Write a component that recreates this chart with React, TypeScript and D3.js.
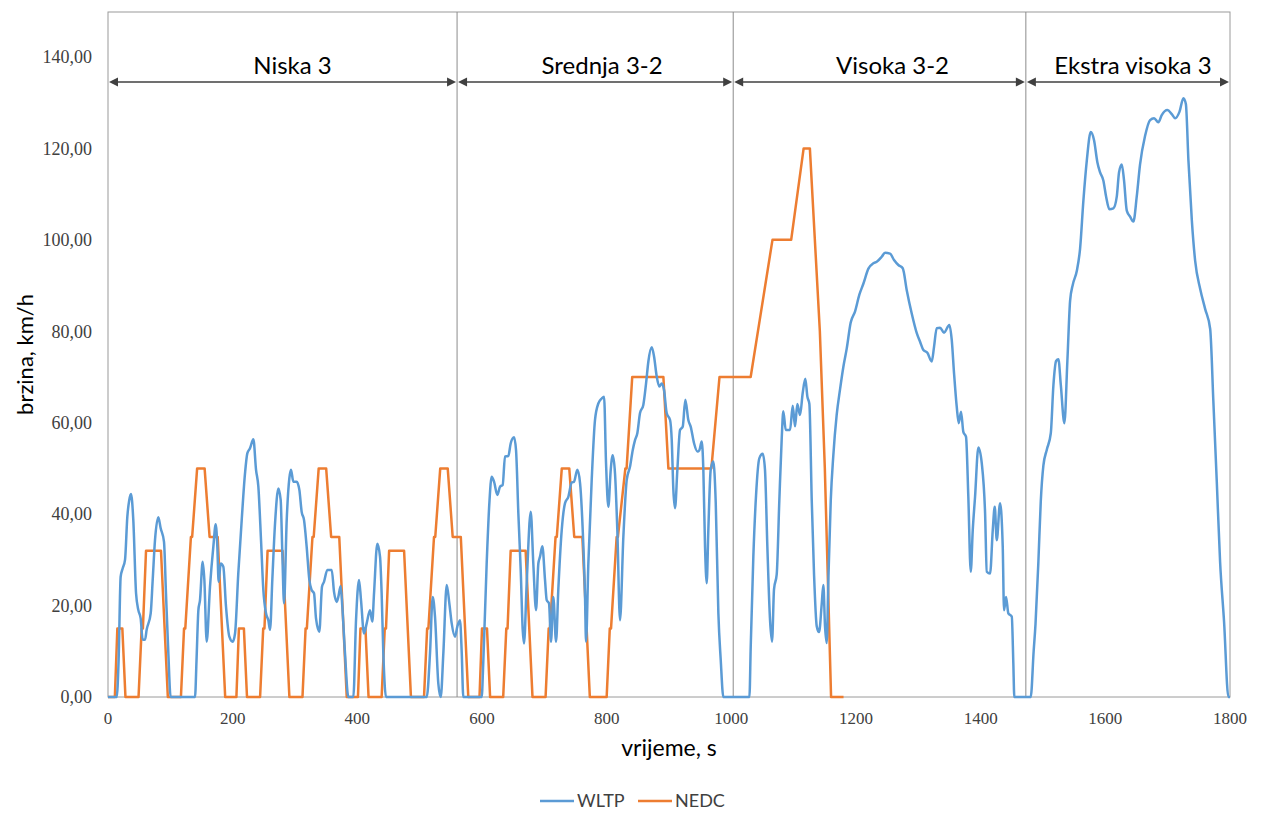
import React from "react";
import * as d3 from "d3";

// ---------- DATA ----------
const xTicks = [0, 200, 400, 600, 800, 1000, 1200, 1400, 1600, 1800];
const yTicks = [0, 20, 40, 60, 80, 100, 120, 140];
const yTickLabels = ["0,00", "20,00", "40,00", "60,00", "80,00", "100,00", "120,00", "140,00"];

const phaseBounds = [0, 560, 1003, 1472.5, 1800];
const phaseNames = ["Niska 3", "Srednja 3-2", "Visoka 3-2", "Ekstra visoka 3"];

const seriesNames = ["WLTP", "NEDC"];
const seriesColors = ["#5B9BD5", "#ED7D31"];

// WLTP speed trace [s, km/h]
const wltpLow: [number, number][] = [
  [0, 0], [14, 0], [17, 8], [20.3, 26.3], [23.5, 28.1], [27.3, 30], [31, 39.4], [34, 43], [36.9, 44.4],
  [40.6, 38.7], [45, 22.7], [48.7, 19], [52.4, 17.2], [55.6, 12.5], [59.4, 12.5], [62, 14.7], [68.5, 18.3],
  [71.7, 25.6], [75.4, 34.3], [80.7, 39.3], [84.5, 36.9], [89.8, 34], [93, 22.7], [96.8, 9.6], [100.5, 0],
  [139.6, 0], [142, 8], [145, 19], [147.6, 21.2], [151.9, 29.6], [154.6, 25.6], [158.3, 12.1], [163.6, 24.1],
  [169, 32.9], [172.8, 37.8], [175.4, 32.9], [177.5, 25.2], [180.8, 29.2], [185, 28.5], [189.3, 19.8],
  [194.7, 13.2], [200, 12.1], [203.8, 13.9], [209, 27], [214.5, 38.7], [219.8, 48.9], [223.5, 53.3],
  [227.8, 54.4], [233.2, 56.4], [237.5, 49.7], [241.2, 46], [245.5, 34.3], [249.2, 23.4], [253.5, 18.3],
  [257.2, 16.8], [260, 14.7], [263.6, 25.6], [268, 38], [273.3, 45.6], [277, 43.1], [279.7, 31.4],
  [282.4, 20.5], [286.7, 38.7], [290.9, 47.8], [293.6, 49.7], [297.3, 47.1], [302.7, 47.1], [307, 45.3],
  [310.7, 40.5], [314.5, 38.7], [318.7, 32.9], [323, 25.6], [326.7, 23.4], [330.5, 22.7], [333.7, 17.2],
  [339, 14.3], [343.3, 24.1], [346.5, 25.2], [351.9, 27.8], [358.9, 27.8], [362.6, 23], [366.9, 20.8],
  [369.5, 21.9], [373.3, 24.3], [375.9, 19.8], [380.2, 9.6], [385.6, 0],
  [393.6, 0], [397.9, 16.8], [402.7, 25.6], [405.9, 21.2], [410.7, 13.9], [415, 16.1], [420.3, 19],
  [424, 16.5], [426.8, 22.7], [432, 33.5], [436.4, 30.7], [439, 22.7], [441.7, 9.6], [446, 0],
  [511.3, 0], [516.6, 9.6], [520.9, 21.9], [524.6, 17.6], [529.9, 3], [533.8, 0], [538, 9.6], [543.4, 24.5],
  [547.6, 20.5], [551.4, 16.1], [556.7, 13.2], [560.4, 15.4], [564.7, 16.8], [567.5, 9.6], [570, 0],
];
const wltpMedium: [number, number][] = [
  [599.5, 0], [602, 7.4], [607.5, 29.2], [611.8, 42.4], [615.5, 48.2], [619.3, 47.1], [624.6, 44.2],
  [628.9, 46], [633.2, 46.4], [636.9, 52.6], [642.2, 52.7], [646.1, 55.5], [651.4, 56.8], [654.6, 54],
  [658.3, 40.2], [662.1, 27.8], [665.3, 14.7], [667.4, 11.7], [671.7, 24.9], [678.2, 40.5], [682.3, 29.2],
  [686.7, 19], [690.4, 29.2], [693.1, 30.7], [696.8, 33], [701.1, 25.6], [703.8, 21.2], [707.5, 20.5],
  [710.7, 12.1], [714.4, 21.9], [718.8, 12.1], [722.4, 23.4], [727.9, 36.5], [733.2, 42.4], [738.5, 43.8],
  [743.9, 46.9], [747.6, 47.1], [753, 49.7], [757.3, 46.8], [761.6, 36.5], [765.3, 21.9], [766.9, 12.1],
  [770.6, 29.2], [776, 47.5], [781.3, 60.6], [786.6, 64.2], [792.1, 65.3], [795.8, 65.7], [799, 51.1],
  [802.7, 41.6], [806.5, 49.7], [809.7, 52.9], [813.4, 48.9], [817.1, 36.5], [821.4, 16.8], [826.8, 35.1],
  [832.2, 47.5], [837.5, 50.4], [841.8, 54], [845.5, 56.2], [849.2, 57.7], [853.5, 62.1], [858.8, 63.9],
  [863.2, 68.6], [866.9, 73.4], [872.3, 76.5], [876, 74.5], [880.3, 70.1], [884.5, 67.9], [888.4, 68.6],
  [892, 67.2], [896.3, 62.1], [901.7, 60.6], [904.4, 56.2], [907, 45.3], [909.7, 41.3], [913.4, 49.7],
  [917.7, 58.4], [922, 59.1], [926.2, 65], [931, 60.6], [934.9, 59.1], [940.2, 55.5], [945.5, 53.7],
  [948.7, 54], [952.5, 55.9], [955.1, 49.7], [957.8, 32.9], [960.5, 24.9], [963.1, 36.5], [966.9, 49.7],
  [971.1, 51.5], [975, 42.4], [979.2, 18.3], [983, 8.1], [987.2, 0],
];
const wltpHigh: [number, number][] = [
  [1029, 0], [1031.1, 11], [1035.3, 30.7], [1039.6, 44], [1044.9, 52.2], [1050.4, 53.2], [1054, 49.7],
  [1057.8, 32.9], [1062.1, 16.8], [1065.3, 12.1], [1068.5, 23.6], [1072.8, 26.8], [1077, 43], [1080.9, 56.8],
  [1083.4, 62.5], [1087.3, 58.4], [1094.2, 58.4], [1098.5, 63.7], [1102.2, 59.2], [1105.9, 64.1],
  [1110.2, 61.7], [1114.5, 66.5], [1118.7, 69.6], [1122, 65.7], [1125.2, 64.1], [1129, 43], [1132.7, 26.8],
  [1137, 15.5], [1140.7, 14.2], [1145, 20.3], [1147.6, 24.5], [1150.3, 15.5], [1153, 11.8], [1155.6, 25.2],
  [1159.5, 43], [1163.6, 52.8], [1169, 61.7], [1174.4, 67.3], [1179.7, 72.2], [1185.1, 76.2], [1191.5, 81.9],
  [1198.4, 84.3], [1205.4, 88], [1211.8, 90.4], [1219.9, 93.7], [1227.9, 94.9], [1233.3, 95.2],
  [1241.3, 96.3], [1246.6, 97.2], [1254.6, 97], [1261, 95.6], [1268, 94.5], [1275, 93.8], [1281.4, 89],
  [1289.4, 83.9], [1297.5, 79.6], [1302.8, 77.7], [1308.1, 75.9], [1314.5, 75.3], [1321.5, 73.4],
  [1325.2, 76.6], [1329.5, 80.7], [1334.8, 80.8], [1341.2, 79.7], [1349.8, 81.4], [1353.6, 78.1],
  [1357.3, 70.8], [1361.6, 63.5], [1364.8, 59.9], [1368.5, 62.4], [1372.2, 58], [1376.5, 56.9],
  [1380.2, 43.8], [1384.1, 27.4], [1387.3, 36.5], [1391, 43.8], [1396.3, 54.6], [1401.8, 51.1],
  [1407.1, 40.2], [1409.8, 27.4], [1415.1, 27], [1419.4, 36.5], [1422.6, 41.6], [1425.8, 34.3],
  [1431.1, 42.4], [1435.4, 32.9], [1437.5, 19], [1440.7, 21.9], [1444.4, 18.3], [1449.9, 17.6],
  [1452.4, 7.4], [1454, 0],
];
const wltpExtraHigh: [number, number][] = [
  [1480.3, 0], [1485, 10], [1488, 16], [1492.6, 29.6], [1496.4, 42.7], [1500.6, 50.6], [1506.1, 54.1],
  [1512.5, 57.7], [1516.7, 68.2], [1521, 73.5], [1524.7, 73.9], [1528.6, 68.2], [1534.3, 59.9],
  [1539.1, 73.5], [1543.5, 86.7], [1547.8, 90.2], [1554.2, 93.2], [1559.5, 98.1], [1564.8, 108.6],
  [1570.3, 117.4], [1576.6, 123.6], [1581.9, 121.8], [1587.2, 117], [1591.5, 114.8], [1596.8, 113],
  [1601.2, 109.5], [1606.5, 106.7], [1612.9, 106.9], [1618.4, 109.5], [1622, 114.8], [1626.4, 116.5],
  [1630, 113], [1634.4, 106.4], [1639.7, 105.1], [1645, 104], [1650.4, 109.5], [1655.7, 116.5],
  [1663.7, 122.7], [1671.8, 126.2], [1678.2, 126.6], [1685.1, 125.7], [1690.5, 127.3], [1699.6, 128.4],
  [1706.6, 127.5], [1712, 126.6], [1718.9, 128], [1725.3, 131], [1729.2, 129.7], [1733.3, 117.4],
  [1738.8, 104.2], [1744.1, 95.4], [1752.1, 89.3], [1760.1, 84.9], [1768.2, 80.5], [1773.3, 64.7],
  [1778.8, 47.1], [1784.1, 29.6], [1790.5, 16.4], [1797.4, 0], [1800, 0],
];

// NEDC speed trace [s, km/h]
const nedc: [number, number][] = [
  [0, 0], [11, 0], [15, 15], [23, 15], [28, 0], [49, 0], [54, 15], [56, 15], [61, 32], [85, 32], [96, 0],
  [117, 0], [122, 15], [124, 15], [133, 35], [135, 35], [143, 50], [155, 50], [163, 35], [176, 35], [188, 0],
  [206, 0], [210, 15], [218, 15], [223, 0], [244, 0], [249, 15], [251, 15], [256, 32], [280, 32], [291, 0],
  [312, 0], [317, 15], [319, 15], [328, 35], [330, 35], [338, 50], [350, 50], [358, 35], [371, 35], [383, 0],
  [401, 0], [405, 15], [413, 15], [418, 0], [439, 0], [444, 15], [446, 15], [451, 32], [475, 32], [486, 0],
  [507, 0], [512, 15], [514, 15], [523, 35], [525, 35], [533, 50], [545, 50], [553, 35], [566, 35], [578, 0],
  [596, 0], [600, 15], [608, 15], [613, 0], [634, 0], [639, 15], [641, 15], [646, 32], [670, 32], [681, 0],
  [702, 0], [707, 15], [709, 15], [718, 35], [720, 35], [728, 50], [740, 50], [748, 35], [761, 35], [773, 0],
  [800, 0], [805, 15], [807, 15], [816, 35], [818, 35], [830, 50], [832, 50], [841, 70], [891, 70],
  [899, 50], [968, 50], [981, 70], [1031, 70], [1066, 100], [1096, 100], [1116, 120], [1126, 120],
  [1142, 80], [1150, 50], [1160, 0], [1180, 0],
];

// ---------- LAYOUT ----------
const W = 1261;
const H = 814;
const left = 108, right = 1230, top = 12, bottom = 697;
const sansFont = "Lato, 'Liberation Sans', Arial, sans-serif";
const serifFont = "'Liberation Serif', 'Times New Roman', serif";

export default function App() {
  const x = d3.scaleLinear().domain([0, 1800]).range([left, right]);
  const y = d3.scaleLinear().domain([0, 140]).range([bottom, 57]);

  const wltp = [...wltpLow, ...wltpMedium, ...wltpHigh, ...wltpExtraHigh];
  const smooth = d3
    .line<[number, number]>()
    .x((d) => x(d[0]))
    .y((d) => y(d[1]))
    .curve(d3.curveMonotoneX);
  const straight = d3
    .line<[number, number]>()
    .x((d) => x(d[0]))
    .y((d) => y(d[1]));

  const arrowY = 82;
  const labelOffsets = [10, 7, 13, 5];
  const ah = 9, aw = 4.5;

  return (
    <svg
      width={W}
      height={H}
      style={{ position: "absolute", left: 0, top: 0, display: "block", background: "#fff" }}
    >
      <rect x={0} y={0} width={W} height={H} fill="#fff" />
      {/* frame */}
      <rect x={left} y={top} width={right - left} height={bottom - top} fill="none" stroke="#9a9a9a" strokeWidth={1} />
      {/* phase separators */}
      {phaseBounds.slice(1, -1).map((b, i) => (
        <line key={i} x1={x(b)} x2={x(b)} y1={top} y2={bottom} stroke="#8c8c8c" strokeWidth={1} />
      ))}
      {/* arrows + labels */}
      {phaseNames.map((name, i) => {
        const x1 = x(phaseBounds[i]);
        const x2 = x(phaseBounds[i + 1]);
        return (
          <g key={name}>
            <line x1={x1 + ah} x2={x2 - ah} y1={arrowY} y2={arrowY} stroke="#404040" strokeWidth={1.5} />
            <path d={`M${x1 + 1},${arrowY} L${x1 + 1 + ah},${arrowY - aw} L${x1 + 1 + ah},${arrowY + aw} Z`} fill="#404040" />
            <path d={`M${x2 - 1},${arrowY} L${x2 - 1 - ah},${arrowY - aw} L${x2 - 1 - ah},${arrowY + aw} Z`} fill="#404040" />
            <text
              x={(x1 + x2) / 2 + labelOffsets[i]}
              y={74}
              textAnchor="middle"
              fontFamily={sansFont}
              fontSize={24}
              fill="#000"
            >
              {name}
            </text>
          </g>
        );
      })}
      {/* series */}
      <path d={straight(nedc) || ""} fill="none" stroke={seriesColors[1]} strokeWidth={2.5} strokeLinejoin="round" />
      <path d={smooth(wltp) || ""} fill="none" stroke={seriesColors[0]} strokeWidth={2.5} strokeLinejoin="round" />
      {/* y tick labels */}
      {yTicks.map((t, i) => (
        <text
          key={t}
          x={92}
          y={y(t)}
          dy="0.35em"
          textAnchor="end"
          fontFamily={serifFont}
          fontSize={18}
          fill="#404040"
        >
          {yTickLabels[i]}
        </text>
      ))}
      {/* x tick labels */}
      {xTicks.map((t) => (
        <text key={t} x={x(t)} y={724} textAnchor="middle" fontFamily={serifFont} fontSize={17} fill="#404040">
          {t}
        </text>
      ))}
      {/* axis titles */}
      <text x={(left + right) / 2} y={756} textAnchor="middle" fontFamily={sansFont} fontSize={23} fill="#000">
        vrijeme, s
      </text>
      <text
        transform={`translate(33, ${(top + bottom) / 2}) rotate(-90)`}
        textAnchor="middle"
        fontFamily={sansFont}
        fontSize={22}
        fill="#000"
      >
        brzina, km/h
      </text>
      {/* legend */}
      {seriesNames.map((n, i) => {
        const lx = [540, 638][i];
        return (
          <g key={n}>
            <line x1={lx} x2={lx + 34} y1={801} y2={801} stroke={seriesColors[i]} strokeWidth={2.5} />
            <text x={lx + 37} y={801} dy="0.36em" fontFamily={sansFont} fontSize={18} fill="#404040">
              {n}
            </text>
          </g>
        );
      })}
    </svg>
  );
}
